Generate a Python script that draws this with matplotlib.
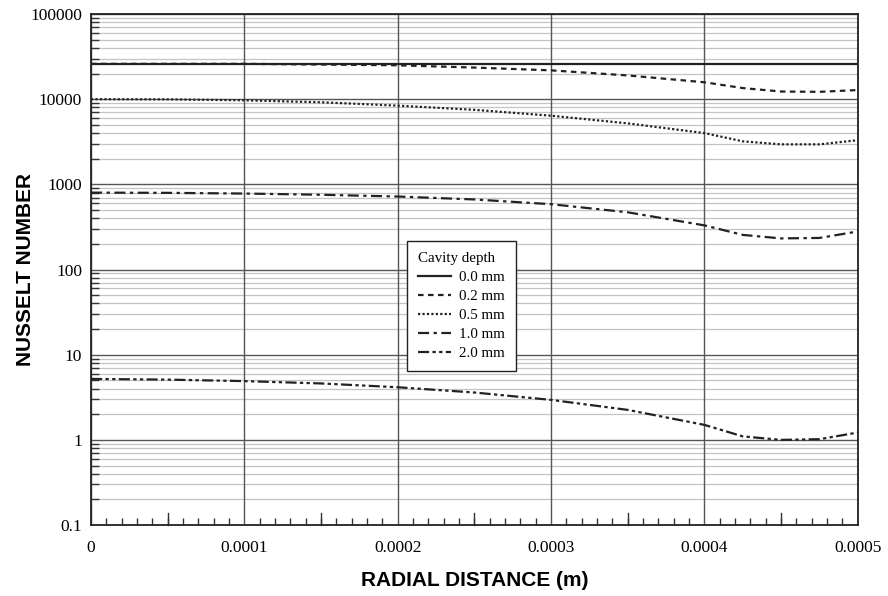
import numpy as np
import matplotlib
matplotlib.use('Agg')
import matplotlib.pyplot as plt
from matplotlib.ticker import FixedLocator, FixedFormatter, MultipleLocator, NullFormatter

# radial positions (m)
r = [0, 0.00005, 0.0001, 0.00015, 0.0002, 0.00025, 0.0003, 0.00035,
     0.0004, 0.000425, 0.00045, 0.000475, 0.0005]

# Nusselt number per cavity depth
nu_00 = [26000, 26000, 26000, 26000, 26000, 26000, 26000, 26000,
         26000, 26000, 26000, 26000, 26000]
nu_02 = [26000, 26000, 26000, 25500, 25000, 23500, 21800, 19000,
         15800, 13500, 12300, 12200, 12800]
nu_05 = [10000, 9950, 9700, 9200, 8400, 7500, 6400, 5200,
         4000, 3200, 2950, 2950, 3300]
nu_10 = [800, 795, 780, 755, 720, 665, 585, 470,
         330, 255, 232, 235, 280]
nu_20 = [5.2, 5.1, 4.9, 4.6, 4.15, 3.6, 2.95, 2.25,
         1.5, 1.1, 1.0, 1.02, 1.22]

labels = ['0.0 mm', '0.2 mm', '0.5 mm', '1.0 mm', '2.0 mm']
styles = ['-', (0, (2.5, 2)), (0, (1, 1)), (0, (5, 2, 1.5, 2)), (0, (5, 1.5, 1.5, 1.5, 1.5, 1.5))]
series = [nu_00, nu_02, nu_05, nu_10, nu_20]

ytick_vals = [0.1, 1, 10, 100, 1000, 10000, 100000]
ytick_labels = ['0.1', '1', '10', '100', '1000', '10000', '100000']
xtick_vals = [0, 0.0001, 0.0002, 0.0003, 0.0004, 0.0005]
xtick_labels = ['0', '0.0001', '0.0002', '0.0003', '0.0004', '0.0005']

fig = plt.figure(figsize=(8.88, 5.96), dpi=100)
ax = fig.add_axes([0.1025, 0.119, 0.8635, 0.8575])
ax.set_yscale('log')
ax.set_xlim(0, 0.0005)
ax.set_ylim(0.1, 100000)

# grid
minor_y = [m * 10.0**e for e in range(-1, 5) for m in range(2, 10)]
for v in minor_y:
    ax.axhline(v, color='#c4c4c4', lw=0.9, zorder=1)
for v in ytick_vals:
    ax.axhline(v, color='#555555', lw=1.0, zorder=2)
for v in xtick_vals:
    ax.axvline(v, color='#555555', lw=1.0, zorder=2)

for y, lab, ls in zip(series, labels, styles):
    ax.plot(r, y, color='#222222', lw=1.6, linestyle=ls, label=lab, zorder=3)

# ticks
ax.yaxis.set_major_locator(FixedLocator(ytick_vals))
ax.yaxis.set_major_formatter(FixedFormatter(ytick_labels))
ax.yaxis.set_minor_locator(FixedLocator(minor_y))
ax.yaxis.set_minor_formatter(NullFormatter())
ax.xaxis.set_major_locator(FixedLocator(xtick_vals))
ax.xaxis.set_major_formatter(FixedFormatter(xtick_labels))
ax.xaxis.set_minor_locator(MultipleLocator(0.00001))
ax.tick_params(axis='y', which='major', direction='in', length=0, pad=6.5)
ax.tick_params(axis='x', which='major', direction='in', length=0, pad=10.5)
ax.tick_params(axis='y', which='minor', direction='in', length=6, width=1, color='#333333')
ax.tick_params(axis='x', which='minor', direction='in', length=5, width=1, color='#333333')
for t in ax.get_xticklabels() + ax.get_yticklabels():
    t.set_fontfamily('Liberation Serif')
    t.set_fontsize(12.5)

# taller ticks at the half-steps
for xm in [0.00005, 0.00015, 0.00025, 0.00035, 0.00045]:
    ax.plot([xm, xm], [0.1, 0.1 * 10**(12 / 85.2)], color='#333333', lw=1, zorder=4, clip_on=False)

for s in ax.spines.values():
    s.set_color('#222222')
    s.set_linewidth(1.3)
    s.set_zorder(5)

ax.set_xlabel('RADIAL DISTANCE (m)', fontfamily='Liberation Sans', fontweight='bold', fontsize=15)
ax.set_ylabel('NUSSELT NUMBER', fontfamily='Liberation Sans', fontweight='bold', fontsize=15)
ax.xaxis.set_label_coords(0.5, -(580 - 525) / 511, transform=ax.transAxes)
ax.yaxis.set_label_coords(-(91 - 25) / 767, 0.5, transform=ax.transAxes)
ax.xaxis.label.set_va('center')
ax.yaxis.label.set_va('center')

leg = ax.legend(title='Cavity depth', loc='upper left', bbox_to_anchor=(407 / 888, 1 - 241 / 596),
                bbox_transform=fig.transFigure, borderaxespad=0, fancybox=False, framealpha=1,
                edgecolor='#222222',
                prop={'family': 'Liberation Serif', 'size': 10.8},
                title_fontproperties={'family': 'Liberation Serif', 'size': 10.8},
                handlelength=2.2, handletextpad=0.5, labelspacing=0.36, borderpad=0.75,
                alignment='left')
leg.get_frame().set_linewidth(1.0)
leg.set_zorder(10)

fig.savefig('out.png', dpi=100)
